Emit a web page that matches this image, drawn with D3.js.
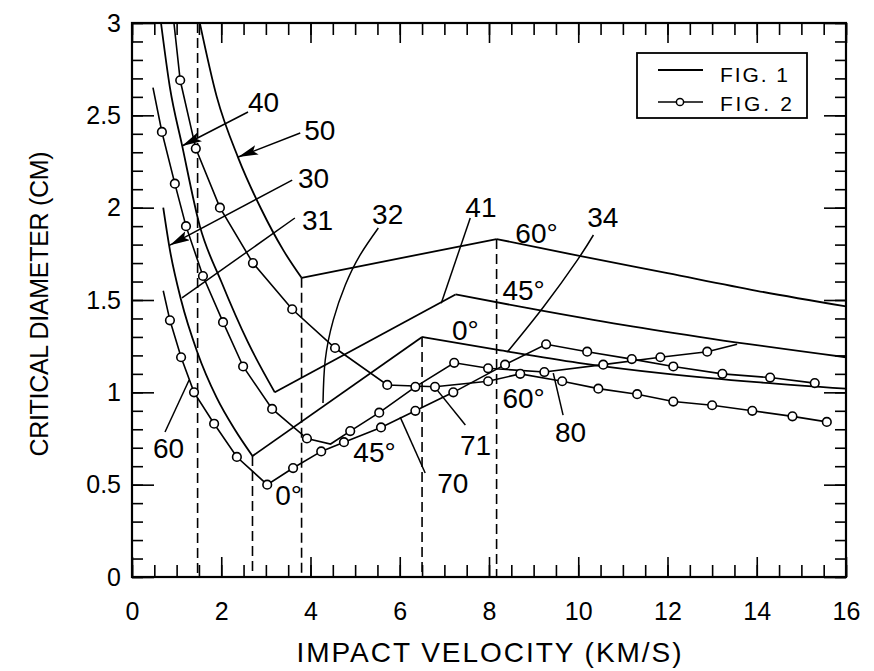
<!DOCTYPE html>
<html><head><meta charset="utf-8">
<script src="https://cdn.jsdelivr.net/npm/d3@7"></script>
<style>
body{margin:0;background:#fff;}
svg{display:block;font-family:"Liberation Sans",Arial,sans-serif;}
</style></head><body>
<svg id="chart" width="874" height="671"></svg>
<script>
// ---------- data ----------
const xMajor = [0, 2, 4, 6, 8, 10, 12, 14, 16];
const xMinor = d3.range(0, 16.01, 0.5);
const yMajor = [0, 0.5, 1, 1.5, 2, 2.5, 3];
const yMinor = d3.range(0, 3.001, 0.1).map(v => +v.toFixed(1));
const xTitle = "IMPACT VELOCITY (KM/S)";
const yTitle = "CRITICAL DIAMETER (CM)";
const legendLabels = ["FIG. 1", "FIG.  2"];

// FIG. 1 curves: ballistic, shatter (straight), hypervelocity
const fig1_0_ballistic = [[0.70,2.00],[0.85,1.77],[1.10,1.50],[1.46,1.22],[1.90,0.97],[2.30,0.80],[2.70,0.655]];
const fig1_0_shatter   = [[2.70,0.655],[6.50,1.30]];
const fig1_0_hyper     = [[6.50,1.30],[8.2,1.23],[10,1.16],[12,1.10],[14,1.055],[16,1.02]];
const fig1_45_ballistic = [[0.65,3.0],[0.85,2.65],[1.12,2.34],[1.52,1.90],[2.0,1.60],[2.6,1.27],[3.2,1.0]];
const fig1_45_shatter   = [[3.2,1.0],[7.25,1.53]];
const fig1_45_hyper     = [[7.25,1.53],[9,1.45],[11,1.365],[13,1.29],[16,1.19]];
const fig1_60_ballistic = [[1.52,3.0],[1.9,2.60],[2.38,2.27],[2.9,1.99],[3.39,1.77],[3.8,1.62]];
const fig1_60_shatter   = [[3.8,1.62],[8.17,1.83]];
const fig1_60_hyper     = [[8.17,1.83],[10,1.74],[12,1.645],[14,1.55],[16,1.465]];

// FIG. 2 curves: [x, y, marker?] (third value 0 = no circle)
const fig2_0 = [[0.70,1.55,0],[0.85,1.39],[1.10,1.19],[1.39,1.00],[1.84,0.83],[2.35,0.65],[3.03,0.50],[3.61,0.59],[4.24,0.68],[4.75,0.73],[5.58,0.81],[6.35,0.90],[7.20,1.00],[8.36,1.15],[9.28,1.26],[10.20,1.22],[11.20,1.18],[12.13,1.14],[13.23,1.10],[14.30,1.08],[15.30,1.05]];
const fig2_45 = [[0.47,2.65,0],[0.67,2.41],[0.96,2.13],[1.21,1.90],[1.59,1.63],[2.04,1.38],[2.49,1.14],[3.14,0.91],[3.92,0.75],[4.45,0.72,0],[4.89,0.79],[5.54,0.89],[6.35,1.03],[7.22,1.16],[7.98,1.13],[9.24,1.11],[10.56,1.15],[11.84,1.19],[12.89,1.22],[13.56,1.26,0]];
const fig2_60 = [[0.94,3.0,0],[1.08,2.69],[1.43,2.32],[1.97,2.00],[2.71,1.70],[3.59,1.45],[4.55,1.24],[5.72,1.04],[6.79,1.03],[7.98,1.06],[8.70,1.10],[9.64,1.06],[10.45,1.02],[11.32,0.99],[12.13,0.95],[13.0,0.93],[13.9,0.90],[14.8,0.87],[15.57,0.84]];

// dashed verticals [x, yTop]
const dashedLines = [[1.47,3.0],[2.70,0.655],[3.80,1.62],[6.50,1.30],[8.17,1.83]];

// annotation labels [text, x, y(baseline)]
const labels = [["40",2.60,2.518],["50",3.86,2.366],["30",3.72,2.106],["31",3.81,1.879],["32",5.38,1.911],
  ["41",7.47,1.949],["60°",8.59,1.808],["34",10.20,1.895],["45°",8.30,1.50],["0°",7.17,1.283],
  ["60°",8.30,0.915],["80",9.48,0.731],["71",7.35,0.661],["70",6.84,0.455],["45°",4.96,0.623],
  ["0°",3.21,0.39],["60",0.47,0.644]];
// leaders: points, arrow?
const arrowLeaders = [[[2.60,2.518],[1.12,2.334]],[[3.77,2.404],[2.38,2.274]],[[3.59,2.149],[0.85,1.797]]];
const plainLeaders = [
  [[3.65,1.944],[1.12,1.511]],
  [[7.58,1.944],[6.93,1.483]],
  [[9.66,0.877],[9.44,1.104]],
  [[7.47,0.823],[6.84,1.012]],
  [[6.57,0.563],[6.01,0.866]],
  [[0.74,0.785],[1.28,1.067]]];
const curvedLeaders = [
  [[5.52,1.890],[5.11,1.743],[4.78,1.581],[4.51,1.391],[4.33,1.175],[4.28,0.942]],
  [[10.34,1.852],[9.98,1.716],[9.22,1.462],[8.41,1.218]]];

// ---------- drawing ----------
const svg = d3.select("#chart");
const x = d3.scaleLinear().domain([0,16]).range([132,846]);
const y = d3.scaleLinear().domain([0,3]).range([577,23]);
const FONT = '"Liberation Sans", Arial, sans-serif';

svg.append("defs").append("marker")
  .attr("id","arrow").attr("markerUnits","userSpaceOnUse")
  .attr("markerWidth",22).attr("markerHeight",12)
  .attr("refX",20).attr("refY",5).attr("orient","auto")
  .append("path").attr("d","M0,0 L20,5 L0,10 L4,5 Z").attr("fill","#000");

function styleAxis(g, fs) {
  g.select(".domain").remove();
  g.selectAll("line").attr("stroke","#000").attr("stroke-width",1.6);
  g.selectAll("text").attr("fill","#000").attr("font-size",fs).attr("font-family",FONT);
}
// bottom
svg.append("g").attr("transform",`translate(0,${y(0)})`)
  .call(d3.axisBottom(x).tickValues(xMinor).tickSize(-12).tickSizeOuter(0).tickFormat(""))
  .call(g=>styleAxis(g,25));
svg.append("g").attr("transform",`translate(0,${y(0)})`)
  .call(d3.axisBottom(x).tickValues(xMajor).tickSize(-20).tickSizeOuter(0).tickPadding(25).tickFormat(d=>d))
  .call(g=>styleAxis(g,25));
// top
svg.append("g").attr("transform",`translate(0,${y(3)})`)
  .call(d3.axisTop(x).tickValues(xMinor).tickSize(-12).tickSizeOuter(0).tickFormat(""))
  .call(g=>styleAxis(g,25));
svg.append("g").attr("transform",`translate(0,${y(3)})`)
  .call(d3.axisTop(x).tickValues(xMajor).tickSize(-20).tickSizeOuter(0).tickFormat(""))
  .call(g=>styleAxis(g,25));
// left
svg.append("g").attr("transform",`translate(${x(0)},0)`)
  .call(d3.axisLeft(y).tickValues(yMinor).tickSize(-11).tickSizeOuter(0).tickFormat(""))
  .call(g=>styleAxis(g,25));
svg.append("g").attr("transform",`translate(${x(0)},0)`)
  .call(d3.axisLeft(y).tickValues(yMajor).tickSize(-22).tickSizeOuter(0).tickPadding(11).tickFormat(d=>d))
  .call(g=>styleAxis(g,25));
// right
svg.append("g").attr("transform",`translate(${x(16)},0)`)
  .call(d3.axisRight(y).tickValues(yMinor).tickSize(-11).tickSizeOuter(0).tickFormat(""))
  .call(g=>styleAxis(g,25));
svg.append("g").attr("transform",`translate(${x(16)},0)`)
  .call(d3.axisRight(y).tickValues(yMajor).tickSize(-22).tickSizeOuter(0).tickFormat(""))
  .call(g=>styleAxis(g,25));

// frame
svg.append("rect").attr("x",x(0)).attr("y",y(3)).attr("width",x(16)-x(0)).attr("height",y(0)-y(3))
  .attr("fill","none").attr("stroke","#000").attr("stroke-width",2.2);

// titles
svg.append("text").attr("x",(x(0)+x(16))/2+0).attr("y",662).attr("text-anchor","middle")
  .attr("font-size",28).attr("font-family",FONT).attr("textLength",385).attr("lengthAdjust","spacing")
  .text(xTitle);
svg.append("text").attr("transform","translate(48,304) rotate(-90)").attr("text-anchor","middle")
  .attr("font-size",25).attr("font-family",FONT).attr("textLength",305).attr("lengthAdjust","spacing")
  .text(yTitle);

const plot = svg.append("g");
// dashed lines
plot.selectAll(".dash").data(dashedLines).join("line")
  .attr("x1",d=>x(d[0])).attr("x2",d=>x(d[0])).attr("y1",d=>y(d[1])).attr("y2",y(0))
  .attr("stroke","#000").attr("stroke-width",1.6).attr("stroke-dasharray","10,5");

const smooth = d3.line().x(d=>x(d[0])).y(d=>y(d[1])).curve(d3.curveMonotoneX);
const straight = d3.line().x(d=>x(d[0])).y(d=>y(d[1]));
const curveSegs = [fig1_0_ballistic,fig1_0_hyper,fig1_45_ballistic,fig1_45_hyper,fig1_60_ballistic,fig1_60_hyper];
const lineSegs = [fig1_0_shatter,fig1_45_shatter,fig1_60_shatter];
plot.selectAll(".f1c").data(curveSegs).join("path").attr("d",smooth)
  .attr("fill","none").attr("stroke","#000").attr("stroke-width",1.8);
plot.selectAll(".f1s").data(lineSegs).join("path").attr("d",straight)
  .attr("fill","none").attr("stroke","#000").attr("stroke-width",1.8);

const fig2 = [fig2_0, fig2_45, fig2_60];
plot.selectAll(".f2").data(fig2).join("path").attr("d",straight)
  .attr("fill","none").attr("stroke","#000").attr("stroke-width",1.6);
fig2.forEach(s=>{
  plot.append("g").selectAll("circle").data(s.filter(d=>d[2]!==0)).join("circle")
    .attr("cx",d=>x(d[0])).attr("cy",d=>y(d[1])).attr("r",4.3)
    .attr("fill","#fff").attr("stroke","#000").attr("stroke-width",1.6);
});

// leaders
plot.selectAll(".al").data(arrowLeaders).join("path").attr("d",straight)
  .attr("fill","none").attr("stroke","#000").attr("stroke-width",1.5).attr("marker-end","url(#arrow)");
plot.selectAll(".pl").data(plainLeaders).join("path").attr("d",straight)
  .attr("fill","none").attr("stroke","#000").attr("stroke-width",1.5);
const natural = d3.line().x(d=>x(d[0])).y(d=>y(d[1])).curve(d3.curveNatural);
plot.selectAll(".cl").data(curvedLeaders).join("path").attr("d",natural)
  .attr("fill","none").attr("stroke","#000").attr("stroke-width",1.5);

// labels
plot.selectAll(".lab").data(labels).join("text")
  .attr("x",d=>x(d[1])).attr("y",d=>y(d[2]))
  .attr("font-size",28).attr("font-family",FONT).attr("fill","#000")
  .text(d=>d[0]);

// legend
const lg = svg.append("g");
lg.append("rect").attr("x",637).attr("y",53).attr("width",170).attr("height",65)
  .attr("fill","#fff").attr("stroke","#000").attr("stroke-width",1.8);
lg.append("line").attr("x1",658).attr("x2",703).attr("y1",70).attr("y2",70).attr("stroke","#000").attr("stroke-width",1.8);
lg.append("line").attr("x1",658).attr("x2",703).attr("y1",102).attr("y2",102).attr("stroke","#000").attr("stroke-width",1.6);
lg.append("circle").attr("cx",680).attr("cy",102).attr("r",3.6).attr("fill","#fff").attr("stroke","#000").attr("stroke-width",1.5);
lg.selectAll("text.lt").data(legendLabels).join("text")
  .attr("x",720).attr("y",(d,i)=>i===0?82:111)
  .attr("font-size",21).attr("font-family",FONT).attr("textLength",(d,i)=>i===0?68:72).attr("lengthAdjust","spacing")
  .text(d=>d);
</script>
</body></html>
